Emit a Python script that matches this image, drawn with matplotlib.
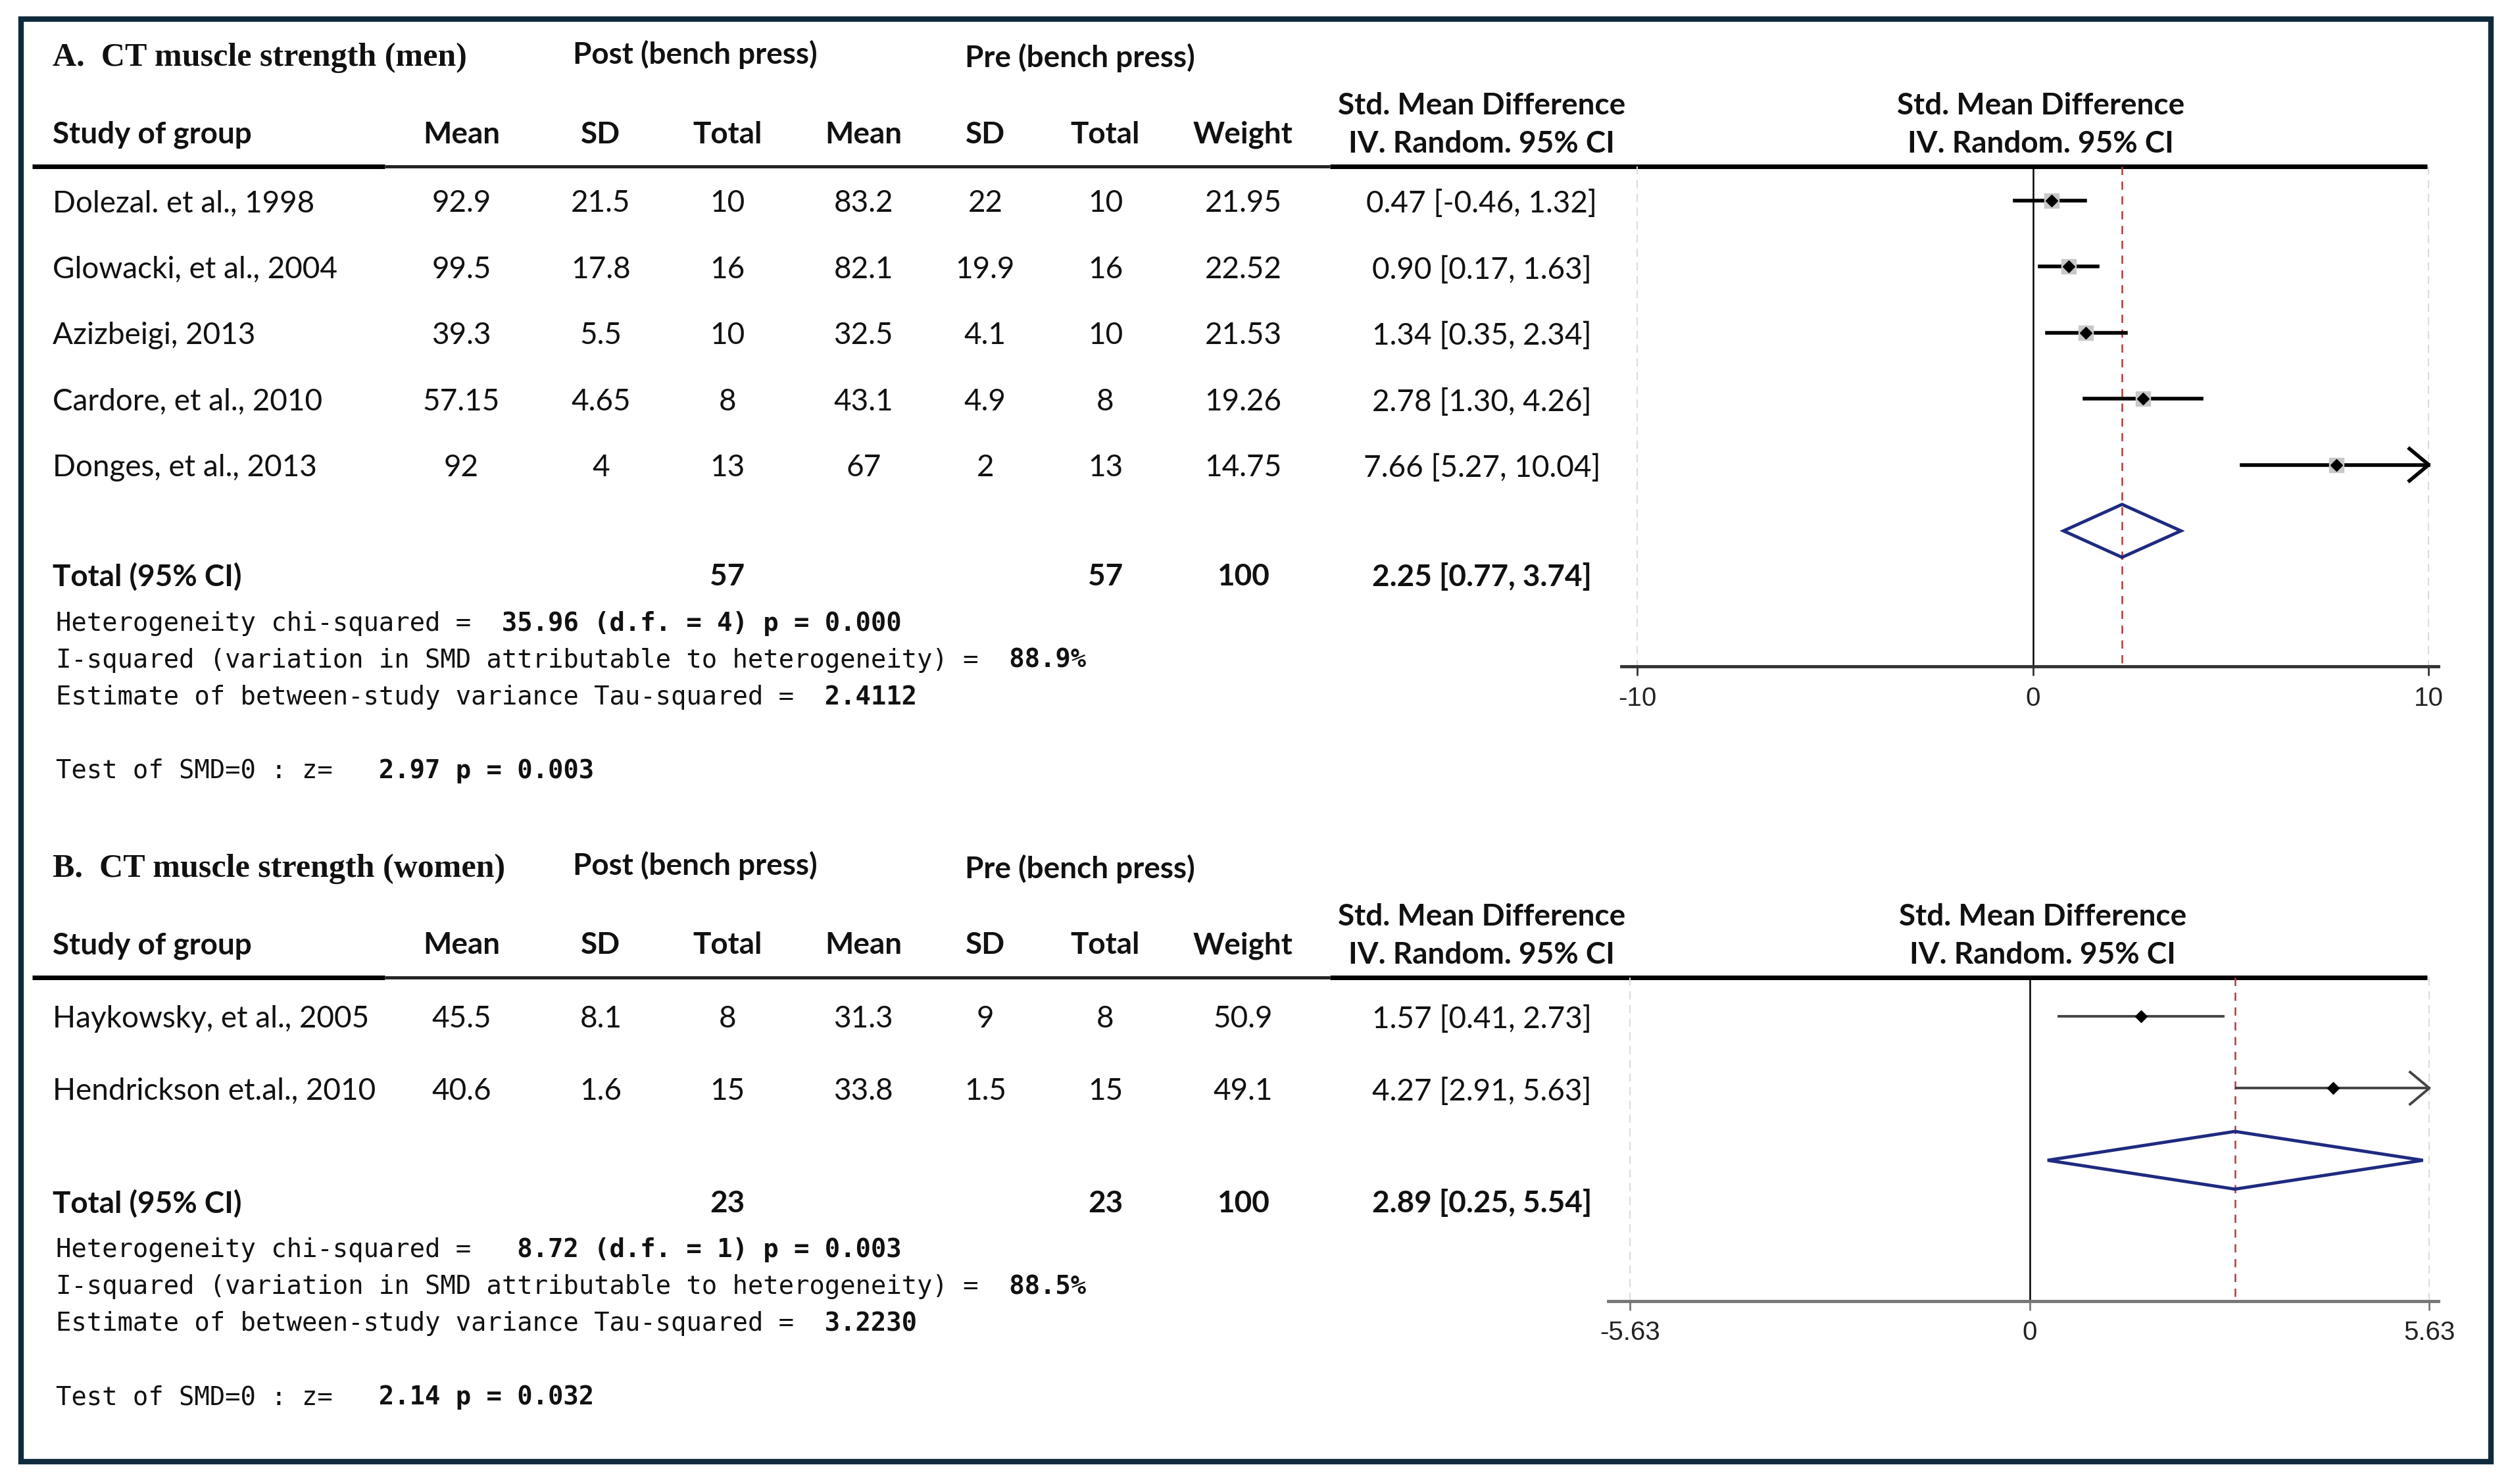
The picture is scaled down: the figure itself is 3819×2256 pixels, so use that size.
import numpy as np
import matplotlib
matplotlib.use("Agg")
import matplotlib.pyplot as plt
from matplotlib.patches import Rectangle, Polygon

# ---- panel A: CT muscle strength (men) ----
names_a = ["Dolezal. et al., 1998", "Glowacki, et al., 2004", "Azizbeigi, 2013",
           "Cardore, et al., 2010", "Donges, et al., 2013"]
post_mean_a = [92.9, 99.5, 39.3, 57.15, 92]
post_sd_a = [21.5, 17.8, 5.5, 4.65, 4]
post_n_a = [10, 16, 10, 8, 13]
pre_mean_a = [83.2, 82.1, 32.5, 43.1, 67]
pre_sd_a = [22, 19.9, 4.1, 4.9, 2]
pre_n_a = [10, 16, 10, 8, 13]
weight_a = [21.95, 22.52, 21.53, 19.26, 14.75]
smd_a = [0.47, 0.90, 1.34, 2.78, 7.66]
lo_a = [-0.46, 0.17, 0.35, 1.30, 5.27]
hi_a = [1.32, 1.63, 2.34, 4.26, 10.04]
pooled_a = [2.25, 0.77, 3.74]
totals_a = [57, 57, 100]
stat_labels_a = ["Heterogeneity chi-squared =",
                 "I-squared (variation in SMD attributable to heterogeneity) =",
                 "Estimate of between-study variance Tau-squared =",
                 "Test of SMD=0 : z="]
stat_values_a = ["  35.96 (d.f. = 4) p = 0.000", "  88.9%", "  2.4112", "   2.97 p = 0.003"]
ticks_a = [-10, 0, 10]
ticklabels_a = ["-10", "0", "10"]

# ---- panel B: CT muscle strength (women) ----
names_b = ["Haykowsky, et al., 2005", "Hendrickson et.al., 2010"]
post_mean_b = [45.5, 40.6]
post_sd_b = [8.1, 1.6]
post_n_b = [8, 15]
pre_mean_b = [31.3, 33.8]
pre_sd_b = [9, 1.5]
pre_n_b = [8, 15]
weight_b = [50.9, 49.1]
smd_b = [1.57, 4.27]
lo_b = [0.41, 2.91]
hi_b = [2.73, 5.63]
pooled_b = [2.89, 0.25, 5.54]
totals_b = [23, 23, 100]
stat_labels_b = stat_labels_a
stat_values_b = ["   8.72 (d.f. = 1) p = 0.003", "  88.5%", "  3.2230", "   2.14 p = 0.032"]
ticks_b = [-5.63, 0, 5.63]
ticklabels_b = ["-5.63", "0", "5.63"]

col_heads = ["Mean", "SD", "Total", "Mean", "SD", "Total", "Weight"]

# layout grid in reference pixels (1568 x 926)
W, H = 1568, 926
COLS = [288, 375, 454, 539, 615, 690, 776, 925]
SANS = "Lato"
SERIF = "Liberation Serif"
MONO = "DejaVu Sans Mono"
FS = 33
NAVY = "#1f2a80"
RED = "#b23a3a"

fig = plt.figure(figsize=(38.19, 22.56), dpi=100)
bg = fig.add_axes([0, 0, 1, 1])
bg.set_xlim(0, W)
bg.set_ylim(H, 0)
bg.axis("off")

bg.add_patch(Rectangle((13, 12), 1542, 900, fill=False, edgecolor="#0f2a3b", lw=6))


def txt(x, y, s, ha="center", bold=False, family=SANS, size=FS, **kw):
    # small downward nudge: va="center" includes descenders
    bg.text(x, y + 2, s, ha=ha, va="center", family=family, size=size,
            weight="bold" if bold else "normal", color="#111111", **kw)


def fmt(v):
    return f"{v:g}"


def draw_panel(top, title, names, cols_data, smd, lo, hi, pooled, totals,
               stat_labels, stat_values, ticks, ticklabels, lay):
    # titles
    txt(33, top, title, ha="left", bold=True, family=SERIF, size=36)
    txt(434, top - 2, "Post (bench press)", bold=True)
    txt(674, top, "Pre (bench press)", bold=True)
    # header row
    txt(33, top + 48, "Study of group", ha="left", bold=True)
    for x, h in zip(COLS, col_heads):
        txt(x, top + 48, h, bold=True)
    for xc in (COLS[7], lay["plot_center"]):
        txt(xc, top + 30, "Std. Mean Difference", bold=True)
        txt(xc, top + 54, "IV. Random. 95% CI", bold=True)
    ly = top + 70
    bg.plot([20, 240], [ly, ly], color="black", lw=5, solid_capstyle="butt")
    bg.plot([240, 830], [ly, ly], color="#222222", lw=3.5, solid_capstyle="butt")
    bg.plot([830, 1515], [ly, ly], color="black", lw=5, solid_capstyle="butt")

    # study rows
    rows = [lay["row0"] + lay["gap"] * i for i in range(len(names))]
    for i, y in enumerate(rows):
        txt(33, y, names[i], ha="left")
        for x, col in zip(COLS[:7], cols_data):
            txt(x, y, fmt(col[i]))
        txt(COLS[7], y, f"{smd[i]:.2f} [{lo[i]:.2f}, {hi[i]:.2f}]")

    # total row
    ty = lay["total"]
    txt(33, ty, "Total (95% CI)", ha="left", bold=True)
    for x, v in zip([COLS[2], COLS[5], COLS[6]], totals):
        txt(x, ty, str(v), bold=True)
    txt(COLS[7], ty, f"{pooled[0]:.2f} [{pooled[1]:.2f}, {pooled[2]:.2f}]", bold=True)

    # heterogeneity statistics (monospace, values in bold)
    for dy, lab, val in zip([29, 52, 75, 121], stat_labels, stat_values):
        txt(35, ty + dy, lab + " " * len(val), ha="left", family=MONO, size=28)
        txt(35, ty + dy, " " * len(lab) + val, ha="left", family=MONO, size=28, bold=True)

    # forest plot
    x0, x1 = lay["ax_px"]
    ay = lay["axis"]
    ax = fig.add_axes([x0 / W, 1 - ay / H, (x1 - x0) / W, (ay - ly) / H])
    ax.patch.set_alpha(0)
    ax.set_xlim(lay["xlim"])
    ax.set_ylim(ay, ly)
    for s in ["top", "right", "left"]:
        ax.spines[s].set_visible(False)
    ax.spines["bottom"].set_color(lay["axis_color"])
    ax.spines["bottom"].set_linewidth(3.5)
    ax.set_yticks([])
    ax.set_xticks(ticks)
    ax.set_xticklabels(ticklabels, family="Liberation Sans", fontsize=29, color="#222222")
    ax.tick_params(axis="x", length=10, width=2, color=lay["axis_color"], pad=11)

    xmax = ticks[-1]
    for t in (ticks[0], ticks[-1]):
        ax.plot([t, t], [ly, ay], color="#dcdcdc", lw=1.5, ls=(0, (6, 4)))
    ax.plot([0, 0], [ly, ay], color="black", lw=1.8)
    ax.plot([pooled[0], pooled[0]], [ly, ay], color=RED, lw=1.8, ls=(0, (5, 4)))

    for i, y in enumerate(rows):
        right = min(hi[i], xmax)
        ax.plot([lo[i], right], [y, y], color=lay["ci_color"], lw=lay["ci_lw"], zorder=3)
        if hi[i] >= xmax:
            dx = 12 / lay["px_per_unit"]
            ax.plot([xmax - dx, xmax, xmax - dx], [y - 10, y, y + 10],
                    color=lay["ci_color"], lw=lay["ci_lw"], zorder=3)
        if lay["boxes"]:
            ax.plot(smd[i], y, marker="s", ms=16, color="#c8c8c8", zorder=3)
        ax.plot(smd[i], y, marker="D", ms=9, color="black", zorder=4)

    dy_ = lay["row0"] + lay["gap"] * len(names)
    hh = 0.4 * lay["gap"]
    ax.add_patch(Polygon([[pooled[1], dy_], [pooled[0], dy_ - hh],
                          [pooled[2], dy_], [pooled[0], dy_ + hh]],
                         closed=True, fill=False, edgecolor=NAVY, lw=3.5, zorder=4))


lay_a = dict(row0=125, gap=41.25, total=358, axis=416, ax_px=(1012, 1522),
             xlim=((1012 - 1269) / 24.7, (1522 - 1269) / 24.7), px_per_unit=24.7,
             plot_center=1274, axis_color="#333333", ci_color="black", ci_lw=4,
             boxes=True)
lay_b = dict(row0=634, gap=45, total=749, axis=812, ax_px=(1004, 1522),
             xlim=((1004 - 1267) / 44.3, (1522 - 1267) / 44.3), px_per_unit=44.3,
             plot_center=1275, axis_color="#777777", ci_color="#444444", ci_lw=2.8,
             boxes=False)

draw_panel(34, "A.  CT muscle strength (men)", names_a,
           [post_mean_a, post_sd_a, post_n_a, pre_mean_a, pre_sd_a, pre_n_a, weight_a],
           smd_a, lo_a, hi_a, pooled_a, totals_a, stat_labels_a, stat_values_a,
           ticks_a, ticklabels_a, lay_a)
draw_panel(540, "B.  CT muscle strength (women)", names_b,
           [post_mean_b, post_sd_b, post_n_b, pre_mean_b, pre_sd_b, pre_n_b, weight_b],
           smd_b, lo_b, hi_b, pooled_b, totals_b, stat_labels_b, stat_values_b,
           ticks_b, ticklabels_b, lay_b)

fig.savefig("out.png", dpi=100, facecolor="white")
